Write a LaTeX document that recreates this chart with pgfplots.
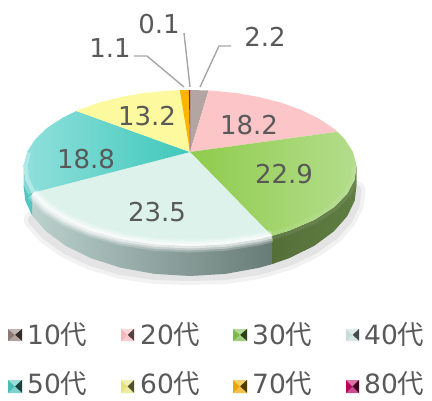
\documentclass[border=0pt]{standalone}
\usepackage{pgfplots}
\pgfplotsset{compat=1.18}
\usepackage{fontspec}
\setmainfont{DejaVu Sans}
\newfontfamily\cjk{Noto Sans CJK JP}
\definecolor{txt}{HTML}{595959}
\definecolor{lead}{HTML}{A6A6A6}
\definecolor{c10}{HTML}{B3A5A1}
\definecolor{c20}{HTML}{FCC5C8}
\definecolor{c30}{HTML}{8FCC4C}
\definecolor{c30b}{HTML}{B4DD8C}
\definecolor{c40}{HTML}{DDF2EA}
\definecolor{c50}{HTML}{3FC8BA}
\definecolor{c50b}{HTML}{90E0DC}
\definecolor{c60}{HTML}{FDF99E}
\definecolor{c70}{HTML}{FFB400}
\definecolor{c80}{HTML}{C00050}
\definecolor{s30a}{HTML}{566F3A}
\definecolor{s30b}{HTML}{5F7E42}
\definecolor{s40a}{HTML}{BAD1CC}
\definecolor{s40b}{HTML}{687B77}
\definecolor{s50}{HTML}{54C6C2}
\definecolor{k10}{HTML}{8E7A74}
\definecolor{k20}{HTML}{F4B6B9}
\definecolor{k30}{HTML}{7DB84A}
\definecolor{k40}{HTML}{C6DDD8}
\definecolor{k50}{HTML}{48BDB5}
\definecolor{k60}{HTML}{E6E27E}
\definecolor{k70}{HTML}{E9A800}
\definecolor{k80}{HTML}{B8005C}
\newcommand{\lab}[3]{\node[text=txt,inner sep=0pt,font=\fontsize{26}{26}\selectfont] at (axis cs:#1,#2) {#3};}
% x0 xm x1 y0 ym y1 colour
\newcommand{\swatch}[7]{%
  \addplot[draw=none,fill=#7] coordinates {(#1,#4)(#3,#4)(#3,#6)(#1,#6)} -- cycle;
  \addplot[draw=none,fill=#7!55!white] coordinates {(#1,#4)(#3,#4)(#2,#5)} -- cycle;
  \addplot[draw=none,fill=#7!35!black] coordinates {(#3,#4)(#3,#6)(#2,#5)} -- cycle;
  \addplot[draw=none,fill=#7!70!white] coordinates {(#1,#6)(#3,#6)(#2,#5)} -- cycle;
}
\newcommand{\legtext}[3]{\node[text=txt,anchor=west,inner sep=0pt,font=\fontsize{26.5}{27}\selectfont] at (axis cs:#1,#2) {#3{\cjk 代}};}
\begin{document}
\begin{tikzpicture}
\useasboundingbox (0,0) rectangle (432pt,400pt);
\begin{axis}[
  scale only axis, width=432pt, height=400pt,
  xmin=0, xmax=432, ymin=0, ymax=400, y dir=reverse,
  hide axis, clip=false, enlargelimits=false, no markers
]
% ground shadow
\addplot[draw=black,opacity=.05,line width=18pt,line cap=round,line join=round] coordinates {(356.5,190)(354.7,205)(347.3,220)(333.8,235)(314.3,249)(289.1,261)(259,270)(225.5,275)(190,276)(154.5,275)(121,270)(90.9,261)(65.7,249)(46.2,235)(32.7,220)};
\addplot[draw=black,opacity=.06,line width=10pt,line cap=round,line join=round] coordinates {(356.5,190)(354.7,205)(347.3,220)(333.8,235)(314.3,249)(289.1,261)(259,270)(225.5,275)(190,276)(154.5,275)(121,270)(90.9,261)(65.7,249)(46.2,235)(32.7,220)};
% sides
\addplot[draw=none,left color=s30a,right color=s30b] coordinates {(356.5,165.4)(354.7,179.5)(347.3,193.6)(333.8,207.3)(314.3,219.9)(289.1,230.7)(271.8,235.9)(271.8,264.2)(289.1,258.2)(314.3,245.8)(333.8,231.4)(347.3,216.1)(354.7,200.7)(356.5,185.7)} -- cycle;
\addplot[draw=none,left color=s40a,right color=s40b] coordinates {(271.8,235.9)(259,239)(225.5,244.2)(190,246)(154.5,244.2)(121,239)(90.9,230.7)(65.7,219.9)(46.2,207.3)(32.7,193.6)(32,193)(32,215.4)(32.7,216.1)(46.2,231.4)(65.7,245.8)(90.9,258.2)(121,267.8)(154.5,273.9)(190,276)(225.5,273.9)(259,267.8)(271.8,264.2)} -- cycle;
\addplot[draw=none,fill=s50] coordinates {(32,193)(25.3,179.5)(23.5,165.4)(23.5,185.7)(25.3,200.7)(32,215.4)} -- cycle;
% top faces
\addplot[draw=none,fill=c10] coordinates {(190,152)(190,90)(208.6,90.5)} -- cycle;
\addplot[draw=none,fill=c20] coordinates {(190,152)(208.6,90.5)(213.5,90.8)(236.7,93.1)(259.2,97.1)(280.6,102.5)(300.3,109.6)(318,118.1)(333.1,128.1)(337.5,131.8)} -- cycle;
\addplot[draw=none,left color=c30,right color=c30b] coordinates {(190,152)(337.5,131.8)(345,139.5)(353,152)(356.5,165.4)(354.7,179.5)(347.3,193.6)(333.8,207.3)(314.3,219.9)(289.1,230.7)(271.8,235.9)} -- cycle;
\addplot[draw=none,fill=c40] coordinates {(190,152)(271.8,235.9)(259,239)(225.5,244.2)(190,246)(154.5,244.2)(121,239)(90.9,230.7)(65.7,219.9)(46.2,207.3)(32.7,193.6)(32,193)} -- cycle;
\addplot[draw=none,left color=c50b,right color=c50] coordinates {(190,152)(32,193)(25.3,179.5)(23.5,165.4)(27,152)(35,139.5)(46.9,128.1)(62,118.1)(76.3,111)} -- cycle;
\addplot[draw=none,fill=c60] coordinates {(190,152)(76.3,111)(79.7,109.6)(99.4,102.5)(120.8,97.1)(143.3,93.1)(166.5,90.8)(179.8,90.2)} -- cycle;
\addplot[draw=none,fill=c70] coordinates {(190,152)(179.8,90.2)(188.9,90)} -- cycle;
\addplot[draw=none,fill=c80] coordinates {(190,152)(188.9,90)(190,90)} -- cycle;
% bevel highlight along the front rim
\addplot[draw=white,opacity=.22,line width=13pt] coordinates {(271.8,235.9)(259,239)(225.5,244.2)(190,246)(154.5,244.2)(121,239)(90.9,230.7)(65.7,219.9)(46.2,207.3)(32.7,193.6)};
\addplot[draw=white,opacity=.35,line width=9pt] coordinates {(271.8,235.9)(259,239)(225.5,244.2)(190,246)(154.5,244.2)(121,239)(90.9,230.7)(65.7,219.9)(46.2,207.3)(32.7,193.6)};
\addplot[draw=white,opacity=.5,line width=5pt] coordinates {(271.8,235.9)(259,239)(225.5,244.2)(190,246)(154.5,244.2)(121,239)(90.9,230.7)(65.7,219.9)(46.2,207.3)(32.7,193.6)};
\addplot[draw=white,opacity=.08,line width=8pt] coordinates {(356.5,165.4)(354.7,179.5)(347.3,193.6)(333.8,207.3)(314.3,219.9)(289.1,230.7)(271.8,235.9)};
\addplot[draw=white,opacity=.3,line width=8pt] coordinates {(32,193)(25.3,179.5)(23.5,165.4)(27,152)};
% leader lines
\addplot[draw=lead,line width=1.4pt] coordinates {(200,87)(219,46)(231,46)};
\addplot[draw=lead,line width=1.4pt] coordinates {(190,87)(184,33)};
\addplot[draw=lead,line width=1.4pt] coordinates {(184,87)(147,56)(134,56)};
% legend swatches
\swatch{8}{15}{22}{329}{335}{341}{k10}
\swatch{121}{127.5}{134}{329}{335}{341}{k20}
\swatch{233}{240}{247}{329}{335}{341}{k30}
\swatch{346}{352.5}{359}{329}{335}{341}{k40}
\swatch{8}{15}{22}{380}{386.5}{393}{k50}
\swatch{121}{127.5}{134}{380}{386.5}{393}{k60}
\swatch{233}{240}{247}{380}{386.5}{393}{k70}
\swatch{346}{352.5}{359}{380}{386.5}{393}{k80}
% data labels
\lab{265}{37}{2.2}
\lab{159}{24}{0.1}
\lab{110}{48}{1.1}
\lab{147}{116}{13.2}
\lab{249}{125}{18.2}
\lab{284}{174}{22.9}
\lab{157}{212}{23.5}
\lab{86}{159}{18.8}
% legend text
\legtext{27}{335}{10}
\legtext{140}{335}{20}
\legtext{252}{335}{30}
\legtext{364}{335}{40}
\legtext{27}{384}{50}
\legtext{140}{384}{60}
\legtext{252}{384}{70}
\legtext{364}{384}{80}
\end{axis}
\end{tikzpicture}
\end{document}
